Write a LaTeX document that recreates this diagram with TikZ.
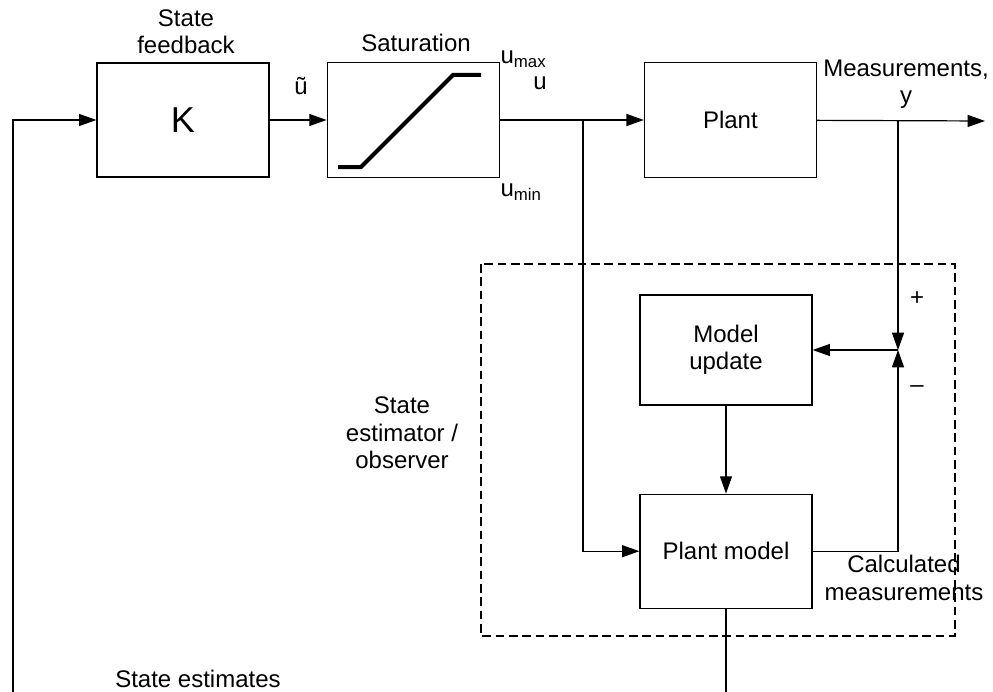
\documentclass[tikz,border=0pt]{standalone}
\usepackage{fontspec}
\setmainfont{Liberation Sans}
\usetikzlibrary{arrows.meta,positioning}

\begin{document}
\begin{tikzpicture}[x=0.75pt,y=-0.75pt,>={Triangle[length=13pt,width=9pt]},line width=0.9pt,
    font=\fontsize{18}{20.5}\selectfont,every node/.style={align=center},
    blk/.style={draw,minimum width=129pt,minimum height=86.25pt,inner sep=0pt}]
    \useasboundingbox (0,0) rectangle (993,692);
    % forward path
    \node[blk,minimum height=85.5pt,font=\fontsize{27}{30}\selectfont] (gain) at (183,120) {K};
    \node[blk,right=42.75pt of gain] (sat) {};
    \node[blk,right=108pt of sat] (plant) {Plant};
    \draw[line width=3pt] (338,167) -- (361,167) -- (453,75) -- (481,75);
    % observer
    \draw[dash pattern=on 6.5pt off 3.5pt] (481,264) rectangle (955,636);
    \node[blk,minimum height=82.5pt] (update) at (726,350) {Model\\update};
    \node[blk,minimum height=85.5pt,below=66pt of update] (pmodel) {Plant model};
    \coordinate (fb) at (13,692);
    \coordinate (est) at (726,692);
    \coordinate (br1) at (583,121);
    \coordinate (br2) at (898,121);
    \coordinate (yout) at (985,121);
    \coordinate (sum) at (898,350);
    \draw[->] (fb) |- (gain.west);
    \draw[->] (gain) -- (sat);
    \draw[->] (sat) -- (plant);
    \draw[->] (plant) -- (yout);
    \draw[->] (br1) |- (pmodel.west);
    \draw[->] (br2) -- (sum);
    \draw[->] (pmodel.east) -| (sum);
    \draw[->] (sum) -- (update.east);
    \draw[->] (update) -- (pmodel);
    \draw (pmodel) -- (est);
    % labels
    \node (lfb) at (186,32) {State\\feedback};
    \node (lut) at (301,86) {ũ};
    \node (lsat) at (416,43) {Saturation};
    \node[anchor=base west,inner sep=0pt] (lmax) at (500,64) {u\textsubscript{max}};
    \node[anchor=base,inner sep=0pt] (lu) at (540,90) {u};
    \node[anchor=base west,inner sep=0pt] (lmin) at (500,196) {u\textsubscript{min}};
    \node (lmeas) at (906,84) {Measurements,\\y};
    \node (lplus) at (917,299) {+};
    \node (lminus) at (917,389) {–};
    \node (lobs) at (402,433) {State\\estimator /\\observer};
    \node (lcalc) at (904,578) {Calculated\\measurements};
    \node (lest) at (198,679) {State estimates};
\end{tikzpicture}
\end{document}
